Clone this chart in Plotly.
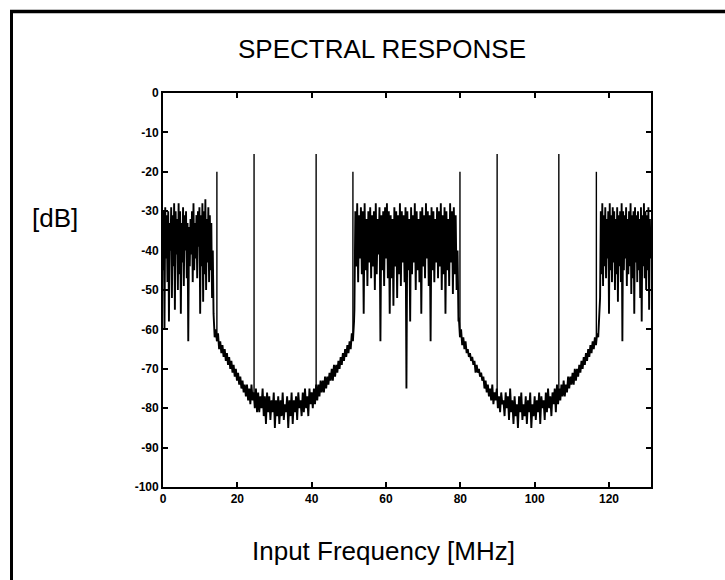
import numpy as np
import plotly.graph_objects as go

# ---- data (frequency in MHz, level in dB) ----
band1_start, band1_step = 0.0, 0.2
band1_db = [-45, -30, -60, -29, -42, -31, -48, -30, -58, -33,
            -40, -29, -52, -31, -44, -28, -55, -30, -41, -32,
            -50, -28, -46, -30, -56, -33, -43, -29, -49, -31,
            -40, -30, -47, -33, -63, -34, -44, -32, -41, -30,
            -48, -28, -45, -33, -42, -31, -47, -30, -39, -29,
            -56, -31, -44, -28, -53, -30, -46, -27, -50, -32,
            -43, -29, -48, -31, -45, -33, -52, -40]

tub1_start, tub1_step = 13.6, 0.3
tub1_db = [-56, -62, -60, -63, -61, -65, -63, -66, -64, -67,
           -65, -68, -66, -69, -67, -70, -68, -71, -69, -72,
           -70, -73, -71, -74, -72, -75, -73, -76, -74, -77,
           -74, -78, -75, -79, -74, -78, -76, -80, -75, -81,
           -76, -81, -77, -80, -75, -82, -77, -84, -76, -81,
           -77, -83, -78, -81, -76, -85, -78, -82, -77, -84,
           -78, -82, -76, -83, -79, -81, -77, -85, -78, -82,
           -76, -84, -78, -81, -77, -83, -76, -80, -78, -82,
           -76, -81, -75, -80, -77, -82, -75, -79, -76, -80,
           -75, -79, -74, -78, -74, -77, -73, -76, -73, -76,
           -72, -75, -72, -74, -71, -73, -70, -73, -69, -72,
           -69, -71, -68, -70, -67, -69, -66, -68, -65, -67,
           -64, -66, -63, -65, -61, -63, -58]

band2_start, band2_step = 51.5, 0.25
band2_db = [-55, -30, -44, -28, -48, -31, -42, -29, -46, -30,
            -56, -28, -45, -32, -49, -30, -43, -29, -47, -31,
            -44, -30, -50, -28, -46, -32, -41, -29, -63, -31,
            -45, -30, -49, -29, -42, -28, -47, -30, -56, -31,
            -47, -32, -54, -29, -44, -30, -52, -31, -46, -28,
            -49, -30, -43, -31, -48, -29, -75, -30, -45, -32,
            -58, -29, -46, -31, -43, -28, -50, -30, -45, -32,
            -48, -30, -56, -29, -44, -31, -47, -28, -42, -30,
            -49, -31, -63, -29, -45, -30, -48, -32, -43, -29,
            -47, -30, -44, -28, -50, -31, -46, -29, -56, -30,
            -45, -32, -49, -28, -43, -30, -51, -29, -46, -31,
            -50, -40, -58]

tub2_start, tub2_step = 79.6, 0.3
tub2_db = [-57, -62, -60, -64, -62, -65, -63, -66, -65, -67,
           -66, -68, -67, -69, -68, -71, -69, -71, -70, -72,
           -71, -73, -72, -75, -73, -76, -74, -77, -75, -78,
           -74, -79, -76, -78, -75, -80, -77, -81, -76, -79,
           -78, -82, -76, -80, -77, -83, -75, -81, -78, -84,
           -77, -82, -79, -85, -77, -81, -76, -83, -79, -82,
           -77, -84, -78, -81, -76, -85, -79, -82, -77, -83,
           -78, -81, -76, -84, -77, -80, -78, -83, -76, -81,
           -75, -80, -77, -82, -76, -79, -75, -81, -74, -79,
           -75, -78, -74, -77, -73, -77, -74, -76, -72, -75,
           -72, -74, -71, -74, -70, -73, -70, -72, -69, -71,
           -68, -70, -67, -69, -66, -68, -65, -67, -64, -66,
           -63, -65, -62, -64, -61, -62, -57]

band3_start, band3_step = 117.6, 0.2
band3_db = [-52, -30, -46, -28, -49, -31, -44, -29, -47, -32,
            -42, -30, -56, -28, -45, -31, -48, -29, -43, -30,
            -50, -32, -46, -29, -53, -31, -44, -30, -48, -28,
            -63, -30, -45, -31, -42, -29, -49, -32, -46, -30,
            -44, -28, -51, -31, -47, -30, -56, -29, -43, -31,
            -48, -30, -45, -32, -52, -29, -58, -31, -44, -28,
            -47, -30, -50, -31, -45, -29, -55, -32, -42]

# tones (vertical lines)
spike_freq = [14.5, 24.5, 41.2, 51.1, 79.9, 89.9, 106.5, 116.6]
spike_top = [-20, -15.5, -15.5, -20, -20, -15.5, -15.5, -20]
spike_base = [-63, -77, -77, -62, -60, -77, -77, -62]

x_ticks = [0, 20, 40, 60, 80, 100, 120]
y_ticks = [0, -10, -20, -30, -40, -50, -60, -70, -80, -90, -100]

# ---- build traces ----
segments = [(band1_start, band1_step, band1_db),
            (tub1_start, tub1_step, tub1_db),
            (band2_start, band2_step, band2_db),
            (tub2_start, tub2_step, tub2_db),
            (band3_start, band3_step, band3_db)]
fx, fy = [], []
for start, step, vals in segments:
    fx.extend(list(start + step * np.arange(len(vals))))
    fy.extend(vals)

sx, sy = [], []
for f, t, b in zip(spike_freq, spike_top, spike_base):
    sx += [f, f, None]
    sy += [b, t, None]

fig = go.Figure()
fig.add_trace(go.Scatter(x=fx, y=fy, mode="lines",
                         line=dict(color="black", width=1.9), hoverinfo="skip"))
fig.add_trace(go.Scatter(x=sx, y=sy, mode="lines",
                         line=dict(color="black", width=1.4), hoverinfo="skip"))

# plot area: x 163..651 px, y 93..487 px
L, R, T, B = 163, 651, 93, 487
W, H = 725, 580


def px(xp):
    return (xp - L) / (R - L)


def py(yp):
    return (B - yp) / (B - T)


axis_font = dict(family="Arial, Liberation Sans, sans-serif", size=12,
                 color="black", weight="bold")
fig.update_layout(
    width=W, height=H,
    margin=dict(l=L, r=W - R, t=T, b=H - B),
    paper_bgcolor="white", plot_bgcolor="white",
    showlegend=False,
    xaxis=dict(range=[0, 131.3], tickvals=x_ticks, ticktext=[str(v) for v in x_ticks],
               ticks="inside", ticklen=5, tickwidth=1.5, tickcolor="black",
               showline=True, linecolor="black", linewidth=1.8, mirror="ticks",
               showgrid=False, zeroline=False, tickfont=axis_font),
    yaxis=dict(range=[-100, 0], tickvals=y_ticks,
               ticktext=[("-" + str(-v)) if v < 0 else str(v) for v in y_ticks],
               ticks="inside", ticklen=5, tickwidth=1.5, tickcolor="black",
               showline=True, linecolor="black", linewidth=1.8, mirror="ticks",
               showgrid=False, zeroline=False, tickfont=axis_font),
)

big = dict(family="Arial, Liberation Sans, sans-serif", size=26, color="black")
fig.add_annotation(text="SPECTRAL RESPONSE", xref="paper", yref="paper",
                   x=px(382), y=py(49), xanchor="center", yanchor="middle",
                   showarrow=False, font=big)
fig.add_annotation(text="[dB]", xref="paper", yref="paper",
                   x=px(55), y=py(218), xanchor="center", yanchor="middle",
                   showarrow=False, font=big)
fig.add_annotation(text="Input Frequency [MHz]", xref="paper", yref="paper",
                   x=px(383), y=py(551), xanchor="center", yanchor="middle",
                   showarrow=False, font=big)

# outer frame (top and left edges)
fig.add_shape(type="line", xref="paper", yref="paper",
              x0=px(10), x1=px(725), y0=py(11.5), y1=py(11.5),
              line=dict(color="black", width=3.5))
fig.add_shape(type="line", xref="paper", yref="paper",
              x0=px(11.5), x1=px(11.5), y0=py(10), y1=py(580),
              line=dict(color="black", width=3))

fig.write_html("out.html")
